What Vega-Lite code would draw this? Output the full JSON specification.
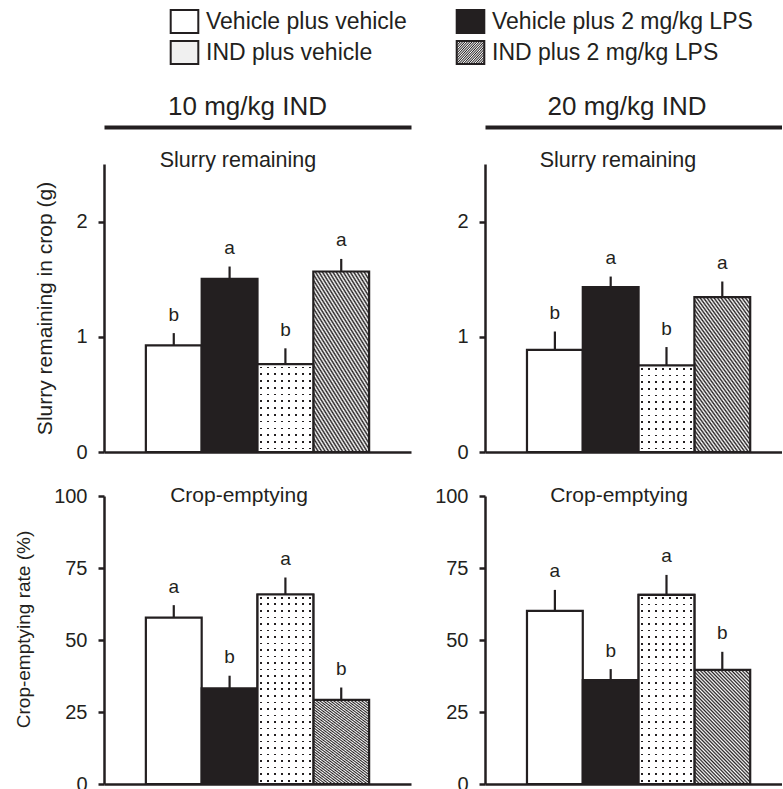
{
  "$schema": "https://vega.github.io/schema/vega-lite/v6.json",
  "padding": {"left": 14, "top": 9, "right": 0, "bottom": 0},
  "datasets": {
    "d": [
      {"m": "slurry", "dose": "10", "t": "Vehicle plus vehicle", "mean": 0.925, "upper": 1.032, "sig": "b"},
      {"m": "slurry", "dose": "10", "t": "Vehicle plus 2 mg/kg LPS", "mean": 1.503, "upper": 1.61, "sig": "a"},
      {"m": "slurry", "dose": "10", "t": "IND plus vehicle", "mean": 0.763, "upper": 0.9, "sig": "b"},
      {"m": "slurry", "dose": "10", "t": "IND plus 2 mg/kg LPS", "mean": 1.567, "upper": 1.676, "sig": "a"},
      {"m": "slurry", "dose": "20", "t": "Vehicle plus vehicle", "mean": 0.887, "upper": 1.046, "sig": "b"},
      {"m": "slurry", "dose": "20", "t": "Vehicle plus 2 mg/kg LPS", "mean": 1.431, "upper": 1.523, "sig": "a"},
      {"m": "slurry", "dose": "20", "t": "IND plus vehicle", "mean": 0.751, "upper": 0.911, "sig": "b"},
      {"m": "slurry", "dose": "20", "t": "IND plus 2 mg/kg LPS", "mean": 1.344, "upper": 1.48, "sig": "a"},
      {"m": "crop", "dose": "10", "t": "Vehicle plus vehicle", "mean": 57.8, "upper": 62.1, "sig": "a"},
      {"m": "crop", "dose": "10", "t": "Vehicle plus 2 mg/kg LPS", "mean": 33.2, "upper": 37.6, "sig": "b"},
      {"m": "crop", "dose": "10", "t": "IND plus vehicle", "mean": 65.8, "upper": 71.7, "sig": "a"},
      {"m": "crop", "dose": "10", "t": "IND plus 2 mg/kg LPS", "mean": 29.2, "upper": 33.5, "sig": "b"},
      {"m": "crop", "dose": "20", "t": "Vehicle plus vehicle", "mean": 60.1, "upper": 67.4, "sig": "a"},
      {"m": "crop", "dose": "20", "t": "Vehicle plus 2 mg/kg LPS", "mean": 36.1, "upper": 39.9, "sig": "b"},
      {"m": "crop", "dose": "20", "t": "IND plus vehicle", "mean": 65.7, "upper": 72.6, "sig": "a"},
      {"m": "crop", "dose": "20", "t": "IND plus 2 mg/kg LPS", "mean": 39.6, "upper": 45.9, "sig": "b"}
    ]
  },
  "columns": 2,
  "spacing": {"row": 22, "column": 23},
  "resolve": {"scale": {"fill": "shared"}, "legend": {"fill": "shared"}},
  "concat": [
    {
      "width": 307, "height": 288,
      "data": {"name": "d"},
      "transform": [{"filter": "datum.m === 'slurry' && datum.dose === '10'"}],
      "resolve": {"scale": {"x": "independent"}, "axis": {"x": "independent"}},
      "layer": [
        {
          "mark": {"type": "bar", "stroke": "#231f20", "strokeWidth": 2.2},
          "encoding": {
            "x": {"field": "t", "type": "nominal", "scale": {"type": "band", "domain": ["Vehicle plus vehicle", "Vehicle plus 2 mg/kg LPS", "IND plus vehicle", "IND plus 2 mg/kg LPS"], "paddingInner": 0, "paddingOuter": 0.75}, "axis": {"orient": "bottom", "labels": false, "ticks": false, "title": null}},
            "y": {"field": "mean", "type": "quantitative", "scale": {"domain": [0, 2.5], "nice": false}, "axis": {"values": [0, 1, 2], "format": "d", "title": "Slurry remaining in crop (g)", "titleFontSize": 21, "titlePadding": 20}},
            "fill": {
              "field": "t", "type": "nominal",
              "scale": {
                "domain": ["Vehicle plus vehicle", "Vehicle plus 2 mg/kg LPS", "IND plus vehicle", "IND plus 2 mg/kg LPS"],
                "range": [
                  "#ffffff",
                  "#231f20",
                  "#f0f0f0",
                  {"expr": "{gradient:'linear',x1:0,y1:1,x2:0.6,y2:-0.2,stops:[{offset:0,color:'#fff'},{offset:0.0104,color:'#231f20'},{offset:0.0208,color:'#fff'},{offset:0.0313,color:'#231f20'},{offset:0.0417,color:'#fff'},{offset:0.0521,color:'#231f20'},{offset:0.0625,color:'#fff'},{offset:0.0729,color:'#231f20'},{offset:0.0833,color:'#fff'},{offset:0.0938,color:'#231f20'},{offset:0.1042,color:'#fff'},{offset:0.1146,color:'#231f20'},{offset:0.125,color:'#fff'},{offset:0.1354,color:'#231f20'},{offset:0.1458,color:'#fff'},{offset:0.1563,color:'#231f20'},{offset:0.1667,color:'#fff'},{offset:0.1771,color:'#231f20'},{offset:0.1875,color:'#fff'},{offset:0.1979,color:'#231f20'},{offset:0.2083,color:'#fff'},{offset:0.2188,color:'#231f20'},{offset:0.2292,color:'#fff'},{offset:0.2396,color:'#231f20'},{offset:0.25,color:'#fff'},{offset:0.2604,color:'#231f20'},{offset:0.2708,color:'#fff'},{offset:0.2813,color:'#231f20'},{offset:0.2917,color:'#fff'},{offset:0.3021,color:'#231f20'},{offset:0.3125,color:'#fff'},{offset:0.3229,color:'#231f20'},{offset:0.3333,color:'#fff'},{offset:0.3438,color:'#231f20'},{offset:0.3542,color:'#fff'},{offset:0.3646,color:'#231f20'},{offset:0.375,color:'#fff'},{offset:0.3854,color:'#231f20'},{offset:0.3958,color:'#fff'},{offset:0.4063,color:'#231f20'},{offset:0.4167,color:'#fff'},{offset:0.4271,color:'#231f20'},{offset:0.4375,color:'#fff'},{offset:0.4479,color:'#231f20'},{offset:0.4583,color:'#fff'},{offset:0.4688,color:'#231f20'},{offset:0.4792,color:'#fff'},{offset:0.4896,color:'#231f20'},{offset:0.5,color:'#fff'},{offset:0.5104,color:'#231f20'},{offset:0.5208,color:'#fff'},{offset:0.5313,color:'#231f20'},{offset:0.5417,color:'#fff'},{offset:0.5521,color:'#231f20'},{offset:0.5625,color:'#fff'},{offset:0.5729,color:'#231f20'},{offset:0.5833,color:'#fff'},{offset:0.5938,color:'#231f20'},{offset:0.6042,color:'#fff'},{offset:0.6146,color:'#231f20'},{offset:0.625,color:'#fff'},{offset:0.6354,color:'#231f20'},{offset:0.6458,color:'#fff'},{offset:0.6563,color:'#231f20'},{offset:0.6667,color:'#fff'},{offset:0.6771,color:'#231f20'},{offset:0.6875,color:'#fff'},{offset:0.6979,color:'#231f20'},{offset:0.7083,color:'#fff'},{offset:0.7188,color:'#231f20'},{offset:0.7292,color:'#fff'},{offset:0.7396,color:'#231f20'},{offset:0.75,color:'#fff'},{offset:0.7604,color:'#231f20'},{offset:0.7708,color:'#fff'},{offset:0.7813,color:'#231f20'},{offset:0.7917,color:'#fff'},{offset:0.8021,color:'#231f20'},{offset:0.8125,color:'#fff'},{offset:0.8229,color:'#231f20'},{offset:0.8333,color:'#fff'},{offset:0.8438,color:'#231f20'},{offset:0.8542,color:'#fff'},{offset:0.8646,color:'#231f20'},{offset:0.875,color:'#fff'},{offset:0.8854,color:'#231f20'},{offset:0.8958,color:'#fff'},{offset:0.9063,color:'#231f20'},{offset:0.9167,color:'#fff'},{offset:0.9271,color:'#231f20'},{offset:0.9375,color:'#fff'},{offset:0.9479,color:'#231f20'},{offset:0.9583,color:'#fff'},{offset:0.9688,color:'#231f20'},{offset:0.9792,color:'#fff'},{offset:0.9896,color:'#231f20'},{offset:1,color:'#fff'}]}"}
                ]
              },
              "legend": {
                "orient": "none", "legendX": 68, "legendY": -155,
                "columns": 2, "direction": "horizontal", "title": null,
                "labelFontSize": 23, "labelColor": "#231f20", "labelLimit": 0, "labelOffset": 9,
                "symbolType": "M-1.2,-1H1.2V1H-1.2Z", "symbolSize": 529,
                "symbolStrokeColor": "#231f20", "symbolStrokeWidth": 2,
                "columnPadding": 45, "rowPadding": 0
              }
            }
          }
        },
        {
          "transform": [{"filter": "datum.t === 'IND plus vehicle'"}],
          "mark": {"type": "bar", "fill": {"gradient": "linear", "x1": 0, "y1": 0, "x2": 1, "y2": 0, "stops": [{"offset": 0.0482, "color": "#ffffff"}, {"offset": 0.0482, "color": "#231f20"}, {"offset": 0.0768, "color": "#231f20"}, {"offset": 0.0768, "color": "#ffffff"}, {"offset": 0.1732, "color": "#ffffff"}, {"offset": 0.1732, "color": "#231f20"}, {"offset": 0.2018, "color": "#231f20"}, {"offset": 0.2018, "color": "#ffffff"}, {"offset": 0.2982, "color": "#ffffff"}, {"offset": 0.2982, "color": "#231f20"}, {"offset": 0.3268, "color": "#231f20"}, {"offset": 0.3268, "color": "#ffffff"}, {"offset": 0.4232, "color": "#ffffff"}, {"offset": 0.4232, "color": "#231f20"}, {"offset": 0.4518, "color": "#231f20"}, {"offset": 0.4518, "color": "#ffffff"}, {"offset": 0.5482, "color": "#ffffff"}, {"offset": 0.5482, "color": "#231f20"}, {"offset": 0.5768, "color": "#231f20"}, {"offset": 0.5768, "color": "#ffffff"}, {"offset": 0.6732, "color": "#ffffff"}, {"offset": 0.6732, "color": "#231f20"}, {"offset": 0.7018, "color": "#231f20"}, {"offset": 0.7018, "color": "#ffffff"}, {"offset": 0.7982, "color": "#ffffff"}, {"offset": 0.7982, "color": "#231f20"}, {"offset": 0.8268, "color": "#231f20"}, {"offset": 0.8268, "color": "#ffffff"}, {"offset": 0.9232, "color": "#ffffff"}, {"offset": 0.9232, "color": "#231f20"}, {"offset": 0.9518, "color": "#231f20"}, {"offset": 0.9518, "color": "#ffffff"}]}},
          "encoding": {
            "x": {"field": "t", "type": "nominal", "scale": {"type": "band", "domain": ["Vehicle plus vehicle", "Vehicle plus 2 mg/kg LPS", "IND plus vehicle", "IND plus 2 mg/kg LPS"], "paddingInner": 0, "paddingOuter": 0.75}, "axis": null},
            "y": {"field": "mean", "type": "quantitative"}
          }
        },
        {
          "transform": [{"filter": "datum.t === 'IND plus vehicle'"}],
          "mark": {"type": "bar", "stroke": "#231f20", "strokeWidth": 2.2, "fill": {"gradient": "linear", "x1": 0, "y1": 0, "x2": 0, "y2": 1, "stops": [
            {"offset": 0.0293, "color": "#ffffff"}, {"offset": 0.0293, "color": "rgba(255,255,255,0)"}, {"offset": 0.0477, "color": "rgba(255,255,255,0)"}, {"offset": 0.0477, "color": "#ffffff"},
            {"offset": 0.1062, "color": "#ffffff"}, {"offset": 0.1062, "color": "rgba(255,255,255,0)"}, {"offset": 0.1246, "color": "rgba(255,255,255,0)"}, {"offset": 0.1246, "color": "#ffffff"},
            {"offset": 0.1831, "color": "#ffffff"}, {"offset": 0.1831, "color": "rgba(255,255,255,0)"}, {"offset": 0.2015, "color": "rgba(255,255,255,0)"}, {"offset": 0.2015, "color": "#ffffff"},
            {"offset": 0.26, "color": "#ffffff"}, {"offset": 0.26, "color": "rgba(255,255,255,0)"}, {"offset": 0.2784, "color": "rgba(255,255,255,0)"}, {"offset": 0.2784, "color": "#ffffff"},
            {"offset": 0.337, "color": "#ffffff"}, {"offset": 0.337, "color": "rgba(255,255,255,0)"}, {"offset": 0.3554, "color": "rgba(255,255,255,0)"}, {"offset": 0.3554, "color": "#ffffff"},
            {"offset": 0.4139, "color": "#ffffff"}, {"offset": 0.4139, "color": "rgba(255,255,255,0)"}, {"offset": 0.4323, "color": "rgba(255,255,255,0)"}, {"offset": 0.4323, "color": "#ffffff"},
            {"offset": 0.4908, "color": "#ffffff"}, {"offset": 0.4908, "color": "rgba(255,255,255,0)"}, {"offset": 0.5092, "color": "rgba(255,255,255,0)"}, {"offset": 0.5092, "color": "#ffffff"},
            {"offset": 0.5677, "color": "#ffffff"}, {"offset": 0.5677, "color": "rgba(255,255,255,0)"}, {"offset": 0.5861, "color": "rgba(255,255,255,0)"}, {"offset": 0.5861, "color": "#ffffff"},
            {"offset": 0.6446, "color": "#ffffff"}, {"offset": 0.6446, "color": "rgba(255,255,255,0)"}, {"offset": 0.663, "color": "rgba(255,255,255,0)"}, {"offset": 0.663, "color": "#ffffff"},
            {"offset": 0.7216, "color": "#ffffff"}, {"offset": 0.7216, "color": "rgba(255,255,255,0)"}, {"offset": 0.74, "color": "rgba(255,255,255,0)"}, {"offset": 0.74, "color": "#ffffff"},
            {"offset": 0.7985, "color": "#ffffff"}, {"offset": 0.7985, "color": "rgba(255,255,255,0)"}, {"offset": 0.8169, "color": "rgba(255,255,255,0)"}, {"offset": 0.8169, "color": "#ffffff"},
            {"offset": 0.8754, "color": "#ffffff"}, {"offset": 0.8754, "color": "rgba(255,255,255,0)"}, {"offset": 0.8938, "color": "rgba(255,255,255,0)"}, {"offset": 0.8938, "color": "#ffffff"},
            {"offset": 0.9523, "color": "#ffffff"}, {"offset": 0.9523, "color": "rgba(255,255,255,0)"}, {"offset": 0.9707, "color": "rgba(255,255,255,0)"}, {"offset": 0.9707, "color": "#ffffff"}
          ]}},
          "encoding": {
            "x": {"field": "t", "type": "nominal", "scale": {"type": "band", "domain": ["Vehicle plus vehicle", "Vehicle plus 2 mg/kg LPS", "IND plus vehicle", "IND plus 2 mg/kg LPS"], "paddingInner": 0, "paddingOuter": 0.75}, "axis": null},
            "y": {"field": "mean", "type": "quantitative"}
          }
        },
        {
          "mark": {"type": "rule", "color": "#231f20", "strokeWidth": 2.2},
          "encoding": {
            "x": {"field": "t", "type": "nominal", "scale": {"type": "band", "domain": ["Vehicle plus vehicle", "Vehicle plus 2 mg/kg LPS", "IND plus vehicle", "IND plus 2 mg/kg LPS"], "paddingInner": 0, "paddingOuter": 0.75}, "axis": {"orient": "top", "offset": 37, "labels": false, "ticks": false, "domainWidth": 4, "title": "10 mg/kg IND", "titleFontSize": 26, "titlePadding": 8, "titleX": 143}},
            "y": {"field": "mean", "type": "quantitative"},
            "y2": {"field": "upper"}
          }
        },
        {
          "mark": {"type": "text", "fontSize": 19, "baseline": "alphabetic", "dy": -12.5, "color": "#231f20"},
          "encoding": {
            "x": {"field": "t", "type": "nominal", "scale": {"type": "band", "domain": ["Vehicle plus vehicle", "Vehicle plus 2 mg/kg LPS", "IND plus vehicle", "IND plus 2 mg/kg LPS"], "paddingInner": 0, "paddingOuter": 0.75}, "axis": {"orient": "top", "domain": false, "labels": false, "ticks": false, "title": "Slurry remaining", "titleFontSize": 21.5, "titlePadding": -2, "titleBaseline": "alphabetic", "titleX": 133.5}},
            "y": {"field": "upper", "type": "quantitative"},
            "text": {"field": "sig"}
          }
        }
      ]
    },
    {
      "width": 297, "height": 288,
      "data": {"name": "d"},
      "transform": [{"filter": "datum.m === 'slurry' && datum.dose === '20'"}],
      "resolve": {"scale": {"x": "independent"}, "axis": {"x": "independent"}},
      "layer": [
        {
          "mark": {"type": "bar", "stroke": "#231f20", "strokeWidth": 2.2},
          "encoding": {
            "x": {"field": "t", "type": "nominal", "scale": {"type": "band", "domain": ["Vehicle plus vehicle", "Vehicle plus 2 mg/kg LPS", "IND plus vehicle", "IND plus 2 mg/kg LPS"], "paddingInner": 0, "paddingOuter": 0.661, "align": 0.569}, "axis": {"orient": "bottom", "labels": false, "ticks": false, "title": null}},
            "y": {"field": "mean", "type": "quantitative", "scale": {"domain": [0, 2.5], "nice": false}, "axis": {"values": [0, 1, 2], "format": "d", "title": null}},
            "fill": {"field": "t", "type": "nominal", "scale": {"domain": ["Vehicle plus vehicle", "Vehicle plus 2 mg/kg LPS", "IND plus vehicle", "IND plus 2 mg/kg LPS"]}}
          }
        },
        {
          "transform": [{"filter": "datum.t === 'IND plus vehicle'"}],
          "mark": {"type": "bar", "fill": {"gradient": "linear", "x1": 0, "y1": 0, "x2": 1, "y2": 0, "stops": [{"offset": 0.0482, "color": "#ffffff"}, {"offset": 0.0482, "color": "#231f20"}, {"offset": 0.0768, "color": "#231f20"}, {"offset": 0.0768, "color": "#ffffff"}, {"offset": 0.1732, "color": "#ffffff"}, {"offset": 0.1732, "color": "#231f20"}, {"offset": 0.2018, "color": "#231f20"}, {"offset": 0.2018, "color": "#ffffff"}, {"offset": 0.2982, "color": "#ffffff"}, {"offset": 0.2982, "color": "#231f20"}, {"offset": 0.3268, "color": "#231f20"}, {"offset": 0.3268, "color": "#ffffff"}, {"offset": 0.4232, "color": "#ffffff"}, {"offset": 0.4232, "color": "#231f20"}, {"offset": 0.4518, "color": "#231f20"}, {"offset": 0.4518, "color": "#ffffff"}, {"offset": 0.5482, "color": "#ffffff"}, {"offset": 0.5482, "color": "#231f20"}, {"offset": 0.5768, "color": "#231f20"}, {"offset": 0.5768, "color": "#ffffff"}, {"offset": 0.6732, "color": "#ffffff"}, {"offset": 0.6732, "color": "#231f20"}, {"offset": 0.7018, "color": "#231f20"}, {"offset": 0.7018, "color": "#ffffff"}, {"offset": 0.7982, "color": "#ffffff"}, {"offset": 0.7982, "color": "#231f20"}, {"offset": 0.8268, "color": "#231f20"}, {"offset": 0.8268, "color": "#ffffff"}, {"offset": 0.9232, "color": "#ffffff"}, {"offset": 0.9232, "color": "#231f20"}, {"offset": 0.9518, "color": "#231f20"}, {"offset": 0.9518, "color": "#ffffff"}]}},
          "encoding": {
            "x": {"field": "t", "type": "nominal", "scale": {"type": "band", "domain": ["Vehicle plus vehicle", "Vehicle plus 2 mg/kg LPS", "IND plus vehicle", "IND plus 2 mg/kg LPS"], "paddingInner": 0, "paddingOuter": 0.661, "align": 0.569}, "axis": null},
            "y": {"field": "mean", "type": "quantitative"}
          }
        },
        {
          "transform": [{"filter": "datum.t === 'IND plus vehicle'"}],
          "mark": {"type": "bar", "stroke": "#231f20", "strokeWidth": 2.2, "fill": {"gradient": "linear", "x1": 0, "y1": 0, "x2": 0, "y2": 1, "stops": [
            {"offset": 0.0293, "color": "#ffffff"}, {"offset": 0.0293, "color": "rgba(255,255,255,0)"}, {"offset": 0.0477, "color": "rgba(255,255,255,0)"}, {"offset": 0.0477, "color": "#ffffff"},
            {"offset": 0.1062, "color": "#ffffff"}, {"offset": 0.1062, "color": "rgba(255,255,255,0)"}, {"offset": 0.1246, "color": "rgba(255,255,255,0)"}, {"offset": 0.1246, "color": "#ffffff"},
            {"offset": 0.1831, "color": "#ffffff"}, {"offset": 0.1831, "color": "rgba(255,255,255,0)"}, {"offset": 0.2015, "color": "rgba(255,255,255,0)"}, {"offset": 0.2015, "color": "#ffffff"},
            {"offset": 0.26, "color": "#ffffff"}, {"offset": 0.26, "color": "rgba(255,255,255,0)"}, {"offset": 0.2784, "color": "rgba(255,255,255,0)"}, {"offset": 0.2784, "color": "#ffffff"},
            {"offset": 0.337, "color": "#ffffff"}, {"offset": 0.337, "color": "rgba(255,255,255,0)"}, {"offset": 0.3554, "color": "rgba(255,255,255,0)"}, {"offset": 0.3554, "color": "#ffffff"},
            {"offset": 0.4139, "color": "#ffffff"}, {"offset": 0.4139, "color": "rgba(255,255,255,0)"}, {"offset": 0.4323, "color": "rgba(255,255,255,0)"}, {"offset": 0.4323, "color": "#ffffff"},
            {"offset": 0.4908, "color": "#ffffff"}, {"offset": 0.4908, "color": "rgba(255,255,255,0)"}, {"offset": 0.5092, "color": "rgba(255,255,255,0)"}, {"offset": 0.5092, "color": "#ffffff"},
            {"offset": 0.5677, "color": "#ffffff"}, {"offset": 0.5677, "color": "rgba(255,255,255,0)"}, {"offset": 0.5861, "color": "rgba(255,255,255,0)"}, {"offset": 0.5861, "color": "#ffffff"},
            {"offset": 0.6446, "color": "#ffffff"}, {"offset": 0.6446, "color": "rgba(255,255,255,0)"}, {"offset": 0.663, "color": "rgba(255,255,255,0)"}, {"offset": 0.663, "color": "#ffffff"},
            {"offset": 0.7216, "color": "#ffffff"}, {"offset": 0.7216, "color": "rgba(255,255,255,0)"}, {"offset": 0.74, "color": "rgba(255,255,255,0)"}, {"offset": 0.74, "color": "#ffffff"},
            {"offset": 0.7985, "color": "#ffffff"}, {"offset": 0.7985, "color": "rgba(255,255,255,0)"}, {"offset": 0.8169, "color": "rgba(255,255,255,0)"}, {"offset": 0.8169, "color": "#ffffff"},
            {"offset": 0.8754, "color": "#ffffff"}, {"offset": 0.8754, "color": "rgba(255,255,255,0)"}, {"offset": 0.8938, "color": "rgba(255,255,255,0)"}, {"offset": 0.8938, "color": "#ffffff"},
            {"offset": 0.9523, "color": "#ffffff"}, {"offset": 0.9523, "color": "rgba(255,255,255,0)"}, {"offset": 0.9707, "color": "rgba(255,255,255,0)"}, {"offset": 0.9707, "color": "#ffffff"}
          ]}},
          "encoding": {
            "x": {"field": "t", "type": "nominal", "scale": {"type": "band", "domain": ["Vehicle plus vehicle", "Vehicle plus 2 mg/kg LPS", "IND plus vehicle", "IND plus 2 mg/kg LPS"], "paddingInner": 0, "paddingOuter": 0.661, "align": 0.569}, "axis": null},
            "y": {"field": "mean", "type": "quantitative"}
          }
        },
        {
          "mark": {"type": "rule", "color": "#231f20", "strokeWidth": 2.2},
          "encoding": {
            "x": {"field": "t", "type": "nominal", "scale": {"type": "band", "domain": ["Vehicle plus vehicle", "Vehicle plus 2 mg/kg LPS", "IND plus vehicle", "IND plus 2 mg/kg LPS"], "paddingInner": 0, "paddingOuter": 0.661, "align": 0.569}, "axis": {"orient": "top", "offset": 37, "labels": false, "ticks": false, "domainWidth": 4, "title": "20 mg/kg IND", "titleFontSize": 26, "titlePadding": 8, "titleX": 141.5}},
            "y": {"field": "mean", "type": "quantitative"},
            "y2": {"field": "upper"}
          }
        },
        {
          "mark": {"type": "text", "fontSize": 19, "baseline": "alphabetic", "dy": -12.5, "color": "#231f20"},
          "encoding": {
            "x": {"field": "t", "type": "nominal", "scale": {"type": "band", "domain": ["Vehicle plus vehicle", "Vehicle plus 2 mg/kg LPS", "IND plus vehicle", "IND plus 2 mg/kg LPS"], "paddingInner": 0, "paddingOuter": 0.661, "align": 0.569}, "axis": {"orient": "top", "domain": false, "labels": false, "ticks": false, "title": "Slurry remaining", "titleFontSize": 21.5, "titlePadding": -2, "titleBaseline": "alphabetic", "titleX": 132.5}},
            "y": {"field": "upper", "type": "quantitative"},
            "text": {"field": "sig"}
          }
        }
      ]
    },
    {
      "width": 307, "height": 288,
      "data": {"name": "d"},
      "transform": [{"filter": "datum.m === 'crop' && datum.dose === '10'"}],
      "resolve": {"scale": {"x": "independent"}, "axis": {"x": "independent"}},
      "layer": [
        {
          "mark": {"type": "bar", "stroke": "#231f20", "strokeWidth": 2.2},
          "encoding": {
            "x": {"field": "t", "type": "nominal", "scale": {"type": "band", "domain": ["Vehicle plus vehicle", "Vehicle plus 2 mg/kg LPS", "IND plus vehicle", "IND plus 2 mg/kg LPS"], "paddingInner": 0, "paddingOuter": 0.75}, "axis": {"orient": "bottom", "labels": false, "ticks": false, "title": null}},
            "y": {"field": "mean", "type": "quantitative", "scale": {"domain": [0, 100], "nice": false}, "axis": {"values": [0, 25, 50, 75, 100], "title": "Crop-emptying rate (%)", "titleFontSize": 19, "titlePadding": 20, "titleY": 133}},
            "fill": {"field": "t", "type": "nominal", "scale": {"domain": ["Vehicle plus vehicle", "Vehicle plus 2 mg/kg LPS", "IND plus vehicle", "IND plus 2 mg/kg LPS"]}}
          }
        },
        {
          "transform": [{"filter": "datum.t === 'IND plus vehicle'"}],
          "mark": {"type": "bar", "fill": {"gradient": "linear", "x1": 0, "y1": 0, "x2": 1, "y2": 0, "stops": [{"offset": 0.0482, "color": "#ffffff"}, {"offset": 0.0482, "color": "#231f20"}, {"offset": 0.0768, "color": "#231f20"}, {"offset": 0.0768, "color": "#ffffff"}, {"offset": 0.1732, "color": "#ffffff"}, {"offset": 0.1732, "color": "#231f20"}, {"offset": 0.2018, "color": "#231f20"}, {"offset": 0.2018, "color": "#ffffff"}, {"offset": 0.2982, "color": "#ffffff"}, {"offset": 0.2982, "color": "#231f20"}, {"offset": 0.3268, "color": "#231f20"}, {"offset": 0.3268, "color": "#ffffff"}, {"offset": 0.4232, "color": "#ffffff"}, {"offset": 0.4232, "color": "#231f20"}, {"offset": 0.4518, "color": "#231f20"}, {"offset": 0.4518, "color": "#ffffff"}, {"offset": 0.5482, "color": "#ffffff"}, {"offset": 0.5482, "color": "#231f20"}, {"offset": 0.5768, "color": "#231f20"}, {"offset": 0.5768, "color": "#ffffff"}, {"offset": 0.6732, "color": "#ffffff"}, {"offset": 0.6732, "color": "#231f20"}, {"offset": 0.7018, "color": "#231f20"}, {"offset": 0.7018, "color": "#ffffff"}, {"offset": 0.7982, "color": "#ffffff"}, {"offset": 0.7982, "color": "#231f20"}, {"offset": 0.8268, "color": "#231f20"}, {"offset": 0.8268, "color": "#ffffff"}, {"offset": 0.9232, "color": "#ffffff"}, {"offset": 0.9232, "color": "#231f20"}, {"offset": 0.9518, "color": "#231f20"}, {"offset": 0.9518, "color": "#ffffff"}]}},
          "encoding": {
            "x": {"field": "t", "type": "nominal", "scale": {"type": "band", "domain": ["Vehicle plus vehicle", "Vehicle plus 2 mg/kg LPS", "IND plus vehicle", "IND plus 2 mg/kg LPS"], "paddingInner": 0, "paddingOuter": 0.75}, "axis": null},
            "y": {"field": "mean", "type": "quantitative"}
          }
        },
        {
          "transform": [{"filter": "datum.t === 'IND plus vehicle'"}],
          "mark": {"type": "bar", "stroke": "#231f20", "strokeWidth": 2.2, "fill": {"gradient": "linear", "x1": 0, "y1": 0, "x2": 0, "y2": 1, "stops": [
            {"offset": 0.013, "color": "#ffffff"}, {"offset": 0.013, "color": "rgba(255,255,255,0)"}, {"offset": 0.0214, "color": "rgba(255,255,255,0)"}, {"offset": 0.0214, "color": "#ffffff"},
            {"offset": 0.0475, "color": "#ffffff"}, {"offset": 0.0475, "color": "rgba(255,255,255,0)"}, {"offset": 0.0559, "color": "rgba(255,255,255,0)"}, {"offset": 0.0559, "color": "#ffffff"},
            {"offset": 0.082, "color": "#ffffff"}, {"offset": 0.082, "color": "rgba(255,255,255,0)"}, {"offset": 0.0904, "color": "rgba(255,255,255,0)"}, {"offset": 0.0904, "color": "#ffffff"},
            {"offset": 0.1165, "color": "#ffffff"}, {"offset": 0.1165, "color": "rgba(255,255,255,0)"}, {"offset": 0.1249, "color": "rgba(255,255,255,0)"}, {"offset": 0.1249, "color": "#ffffff"},
            {"offset": 0.151, "color": "#ffffff"}, {"offset": 0.151, "color": "rgba(255,255,255,0)"}, {"offset": 0.1594, "color": "rgba(255,255,255,0)"}, {"offset": 0.1594, "color": "#ffffff"},
            {"offset": 0.1855, "color": "#ffffff"}, {"offset": 0.1855, "color": "rgba(255,255,255,0)"}, {"offset": 0.1939, "color": "rgba(255,255,255,0)"}, {"offset": 0.1939, "color": "#ffffff"},
            {"offset": 0.2199, "color": "#ffffff"}, {"offset": 0.2199, "color": "rgba(255,255,255,0)"}, {"offset": 0.2283, "color": "rgba(255,255,255,0)"}, {"offset": 0.2283, "color": "#ffffff"},
            {"offset": 0.2544, "color": "#ffffff"}, {"offset": 0.2544, "color": "rgba(255,255,255,0)"}, {"offset": 0.2628, "color": "rgba(255,255,255,0)"}, {"offset": 0.2628, "color": "#ffffff"},
            {"offset": 0.2889, "color": "#ffffff"}, {"offset": 0.2889, "color": "rgba(255,255,255,0)"}, {"offset": 0.2973, "color": "rgba(255,255,255,0)"}, {"offset": 0.2973, "color": "#ffffff"},
            {"offset": 0.3234, "color": "#ffffff"}, {"offset": 0.3234, "color": "rgba(255,255,255,0)"}, {"offset": 0.3318, "color": "rgba(255,255,255,0)"}, {"offset": 0.3318, "color": "#ffffff"},
            {"offset": 0.3579, "color": "#ffffff"}, {"offset": 0.3579, "color": "rgba(255,255,255,0)"}, {"offset": 0.3663, "color": "rgba(255,255,255,0)"}, {"offset": 0.3663, "color": "#ffffff"},
            {"offset": 0.3924, "color": "#ffffff"}, {"offset": 0.3924, "color": "rgba(255,255,255,0)"}, {"offset": 0.4008, "color": "rgba(255,255,255,0)"}, {"offset": 0.4008, "color": "#ffffff"},
            {"offset": 0.4268, "color": "#ffffff"}, {"offset": 0.4268, "color": "rgba(255,255,255,0)"}, {"offset": 0.4352, "color": "rgba(255,255,255,0)"}, {"offset": 0.4352, "color": "#ffffff"},
            {"offset": 0.4613, "color": "#ffffff"}, {"offset": 0.4613, "color": "rgba(255,255,255,0)"}, {"offset": 0.4697, "color": "rgba(255,255,255,0)"}, {"offset": 0.4697, "color": "#ffffff"},
            {"offset": 0.4958, "color": "#ffffff"}, {"offset": 0.4958, "color": "rgba(255,255,255,0)"}, {"offset": 0.5042, "color": "rgba(255,255,255,0)"}, {"offset": 0.5042, "color": "#ffffff"},
            {"offset": 0.5303, "color": "#ffffff"}, {"offset": 0.5303, "color": "rgba(255,255,255,0)"}, {"offset": 0.5387, "color": "rgba(255,255,255,0)"}, {"offset": 0.5387, "color": "#ffffff"},
            {"offset": 0.5648, "color": "#ffffff"}, {"offset": 0.5648, "color": "rgba(255,255,255,0)"}, {"offset": 0.5732, "color": "rgba(255,255,255,0)"}, {"offset": 0.5732, "color": "#ffffff"},
            {"offset": 0.5992, "color": "#ffffff"}, {"offset": 0.5992, "color": "rgba(255,255,255,0)"}, {"offset": 0.6076, "color": "rgba(255,255,255,0)"}, {"offset": 0.6076, "color": "#ffffff"},
            {"offset": 0.6337, "color": "#ffffff"}, {"offset": 0.6337, "color": "rgba(255,255,255,0)"}, {"offset": 0.6421, "color": "rgba(255,255,255,0)"}, {"offset": 0.6421, "color": "#ffffff"},
            {"offset": 0.6682, "color": "#ffffff"}, {"offset": 0.6682, "color": "rgba(255,255,255,0)"}, {"offset": 0.6766, "color": "rgba(255,255,255,0)"}, {"offset": 0.6766, "color": "#ffffff"},
            {"offset": 0.7027, "color": "#ffffff"}, {"offset": 0.7027, "color": "rgba(255,255,255,0)"}, {"offset": 0.7111, "color": "rgba(255,255,255,0)"}, {"offset": 0.7111, "color": "#ffffff"},
            {"offset": 0.7372, "color": "#ffffff"}, {"offset": 0.7372, "color": "rgba(255,255,255,0)"}, {"offset": 0.7456, "color": "rgba(255,255,255,0)"}, {"offset": 0.7456, "color": "#ffffff"},
            {"offset": 0.7717, "color": "#ffffff"}, {"offset": 0.7717, "color": "rgba(255,255,255,0)"}, {"offset": 0.7801, "color": "rgba(255,255,255,0)"}, {"offset": 0.7801, "color": "#ffffff"},
            {"offset": 0.8061, "color": "#ffffff"}, {"offset": 0.8061, "color": "rgba(255,255,255,0)"}, {"offset": 0.8145, "color": "rgba(255,255,255,0)"}, {"offset": 0.8145, "color": "#ffffff"},
            {"offset": 0.8406, "color": "#ffffff"}, {"offset": 0.8406, "color": "rgba(255,255,255,0)"}, {"offset": 0.849, "color": "rgba(255,255,255,0)"}, {"offset": 0.849, "color": "#ffffff"},
            {"offset": 0.8751, "color": "#ffffff"}, {"offset": 0.8751, "color": "rgba(255,255,255,0)"}, {"offset": 0.8835, "color": "rgba(255,255,255,0)"}, {"offset": 0.8835, "color": "#ffffff"},
            {"offset": 0.9096, "color": "#ffffff"}, {"offset": 0.9096, "color": "rgba(255,255,255,0)"}, {"offset": 0.918, "color": "rgba(255,255,255,0)"}, {"offset": 0.918, "color": "#ffffff"},
            {"offset": 0.9441, "color": "#ffffff"}, {"offset": 0.9441, "color": "rgba(255,255,255,0)"}, {"offset": 0.9525, "color": "rgba(255,255,255,0)"}, {"offset": 0.9525, "color": "#ffffff"},
            {"offset": 0.9786, "color": "#ffffff"}, {"offset": 0.9786, "color": "rgba(255,255,255,0)"}, {"offset": 0.987, "color": "rgba(255,255,255,0)"}, {"offset": 0.987, "color": "#ffffff"}
          ]}},
          "encoding": {
            "x": {"field": "t", "type": "nominal", "scale": {"type": "band", "domain": ["Vehicle plus vehicle", "Vehicle plus 2 mg/kg LPS", "IND plus vehicle", "IND plus 2 mg/kg LPS"], "paddingInner": 0, "paddingOuter": 0.75}, "axis": null},
            "y": {"field": "mean", "type": "quantitative"}
          }
        },
        {
          "mark": {"type": "rule", "color": "#231f20", "strokeWidth": 2.2},
          "encoding": {
            "x": {"field": "t", "type": "nominal", "scale": {"type": "band", "domain": ["Vehicle plus vehicle", "Vehicle plus 2 mg/kg LPS", "IND plus vehicle", "IND plus 2 mg/kg LPS"], "paddingInner": 0, "paddingOuter": 0.75}, "axis": null},
            "y": {"field": "mean", "type": "quantitative"},
            "y2": {"field": "upper"}
          }
        },
        {
          "mark": {"type": "text", "fontSize": 19, "baseline": "alphabetic", "dy": -12.5, "color": "#231f20"},
          "encoding": {
            "x": {"field": "t", "type": "nominal", "scale": {"type": "band", "domain": ["Vehicle plus vehicle", "Vehicle plus 2 mg/kg LPS", "IND plus vehicle", "IND plus 2 mg/kg LPS"], "paddingInner": 0, "paddingOuter": 0.75}, "axis": {"orient": "top", "domain": false, "labels": false, "ticks": false, "title": "Crop-emptying", "titleFontSize": 21, "titlePadding": -5.5, "titleBaseline": "alphabetic", "titleX": 134.5}},
            "y": {"field": "upper", "type": "quantitative"},
            "text": {"field": "sig"}
          }
        }
      ]
    },
    {
      "width": 297, "height": 288,
      "data": {"name": "d"},
      "transform": [{"filter": "datum.m === 'crop' && datum.dose === '20'"}],
      "resolve": {"scale": {"x": "independent"}, "axis": {"x": "independent"}},
      "layer": [
        {
          "mark": {"type": "bar", "stroke": "#231f20", "strokeWidth": 2.2},
          "encoding": {
            "x": {"field": "t", "type": "nominal", "scale": {"type": "band", "domain": ["Vehicle plus vehicle", "Vehicle plus 2 mg/kg LPS", "IND plus vehicle", "IND plus 2 mg/kg LPS"], "paddingInner": 0, "paddingOuter": 0.661, "align": 0.569}, "axis": {"orient": "bottom", "labels": false, "ticks": false, "title": null}},
            "y": {"field": "mean", "type": "quantitative", "scale": {"domain": [0, 100], "nice": false}, "axis": {"values": [0, 25, 50, 75, 100], "title": null}},
            "fill": {"field": "t", "type": "nominal", "scale": {"domain": ["Vehicle plus vehicle", "Vehicle plus 2 mg/kg LPS", "IND plus vehicle", "IND plus 2 mg/kg LPS"]}}
          }
        },
        {
          "transform": [{"filter": "datum.t === 'IND plus vehicle'"}],
          "mark": {"type": "bar", "fill": {"gradient": "linear", "x1": 0, "y1": 0, "x2": 1, "y2": 0, "stops": [{"offset": 0.0482, "color": "#ffffff"}, {"offset": 0.0482, "color": "#231f20"}, {"offset": 0.0768, "color": "#231f20"}, {"offset": 0.0768, "color": "#ffffff"}, {"offset": 0.1732, "color": "#ffffff"}, {"offset": 0.1732, "color": "#231f20"}, {"offset": 0.2018, "color": "#231f20"}, {"offset": 0.2018, "color": "#ffffff"}, {"offset": 0.2982, "color": "#ffffff"}, {"offset": 0.2982, "color": "#231f20"}, {"offset": 0.3268, "color": "#231f20"}, {"offset": 0.3268, "color": "#ffffff"}, {"offset": 0.4232, "color": "#ffffff"}, {"offset": 0.4232, "color": "#231f20"}, {"offset": 0.4518, "color": "#231f20"}, {"offset": 0.4518, "color": "#ffffff"}, {"offset": 0.5482, "color": "#ffffff"}, {"offset": 0.5482, "color": "#231f20"}, {"offset": 0.5768, "color": "#231f20"}, {"offset": 0.5768, "color": "#ffffff"}, {"offset": 0.6732, "color": "#ffffff"}, {"offset": 0.6732, "color": "#231f20"}, {"offset": 0.7018, "color": "#231f20"}, {"offset": 0.7018, "color": "#ffffff"}, {"offset": 0.7982, "color": "#ffffff"}, {"offset": 0.7982, "color": "#231f20"}, {"offset": 0.8268, "color": "#231f20"}, {"offset": 0.8268, "color": "#ffffff"}, {"offset": 0.9232, "color": "#ffffff"}, {"offset": 0.9232, "color": "#231f20"}, {"offset": 0.9518, "color": "#231f20"}, {"offset": 0.9518, "color": "#ffffff"}]}},
          "encoding": {
            "x": {"field": "t", "type": "nominal", "scale": {"type": "band", "domain": ["Vehicle plus vehicle", "Vehicle plus 2 mg/kg LPS", "IND plus vehicle", "IND plus 2 mg/kg LPS"], "paddingInner": 0, "paddingOuter": 0.661, "align": 0.569}, "axis": null},
            "y": {"field": "mean", "type": "quantitative"}
          }
        },
        {
          "transform": [{"filter": "datum.t === 'IND plus vehicle'"}],
          "mark": {"type": "bar", "stroke": "#231f20", "strokeWidth": 2.2, "fill": {"gradient": "linear", "x1": 0, "y1": 0, "x2": 0, "y2": 1, "stops": [
            {"offset": 0.013, "color": "#ffffff"}, {"offset": 0.013, "color": "rgba(255,255,255,0)"}, {"offset": 0.0214, "color": "rgba(255,255,255,0)"}, {"offset": 0.0214, "color": "#ffffff"},
            {"offset": 0.0475, "color": "#ffffff"}, {"offset": 0.0475, "color": "rgba(255,255,255,0)"}, {"offset": 0.0559, "color": "rgba(255,255,255,0)"}, {"offset": 0.0559, "color": "#ffffff"},
            {"offset": 0.082, "color": "#ffffff"}, {"offset": 0.082, "color": "rgba(255,255,255,0)"}, {"offset": 0.0904, "color": "rgba(255,255,255,0)"}, {"offset": 0.0904, "color": "#ffffff"},
            {"offset": 0.1165, "color": "#ffffff"}, {"offset": 0.1165, "color": "rgba(255,255,255,0)"}, {"offset": 0.1249, "color": "rgba(255,255,255,0)"}, {"offset": 0.1249, "color": "#ffffff"},
            {"offset": 0.151, "color": "#ffffff"}, {"offset": 0.151, "color": "rgba(255,255,255,0)"}, {"offset": 0.1594, "color": "rgba(255,255,255,0)"}, {"offset": 0.1594, "color": "#ffffff"},
            {"offset": 0.1855, "color": "#ffffff"}, {"offset": 0.1855, "color": "rgba(255,255,255,0)"}, {"offset": 0.1939, "color": "rgba(255,255,255,0)"}, {"offset": 0.1939, "color": "#ffffff"},
            {"offset": 0.2199, "color": "#ffffff"}, {"offset": 0.2199, "color": "rgba(255,255,255,0)"}, {"offset": 0.2283, "color": "rgba(255,255,255,0)"}, {"offset": 0.2283, "color": "#ffffff"},
            {"offset": 0.2544, "color": "#ffffff"}, {"offset": 0.2544, "color": "rgba(255,255,255,0)"}, {"offset": 0.2628, "color": "rgba(255,255,255,0)"}, {"offset": 0.2628, "color": "#ffffff"},
            {"offset": 0.2889, "color": "#ffffff"}, {"offset": 0.2889, "color": "rgba(255,255,255,0)"}, {"offset": 0.2973, "color": "rgba(255,255,255,0)"}, {"offset": 0.2973, "color": "#ffffff"},
            {"offset": 0.3234, "color": "#ffffff"}, {"offset": 0.3234, "color": "rgba(255,255,255,0)"}, {"offset": 0.3318, "color": "rgba(255,255,255,0)"}, {"offset": 0.3318, "color": "#ffffff"},
            {"offset": 0.3579, "color": "#ffffff"}, {"offset": 0.3579, "color": "rgba(255,255,255,0)"}, {"offset": 0.3663, "color": "rgba(255,255,255,0)"}, {"offset": 0.3663, "color": "#ffffff"},
            {"offset": 0.3924, "color": "#ffffff"}, {"offset": 0.3924, "color": "rgba(255,255,255,0)"}, {"offset": 0.4008, "color": "rgba(255,255,255,0)"}, {"offset": 0.4008, "color": "#ffffff"},
            {"offset": 0.4268, "color": "#ffffff"}, {"offset": 0.4268, "color": "rgba(255,255,255,0)"}, {"offset": 0.4352, "color": "rgba(255,255,255,0)"}, {"offset": 0.4352, "color": "#ffffff"},
            {"offset": 0.4613, "color": "#ffffff"}, {"offset": 0.4613, "color": "rgba(255,255,255,0)"}, {"offset": 0.4697, "color": "rgba(255,255,255,0)"}, {"offset": 0.4697, "color": "#ffffff"},
            {"offset": 0.4958, "color": "#ffffff"}, {"offset": 0.4958, "color": "rgba(255,255,255,0)"}, {"offset": 0.5042, "color": "rgba(255,255,255,0)"}, {"offset": 0.5042, "color": "#ffffff"},
            {"offset": 0.5303, "color": "#ffffff"}, {"offset": 0.5303, "color": "rgba(255,255,255,0)"}, {"offset": 0.5387, "color": "rgba(255,255,255,0)"}, {"offset": 0.5387, "color": "#ffffff"},
            {"offset": 0.5648, "color": "#ffffff"}, {"offset": 0.5648, "color": "rgba(255,255,255,0)"}, {"offset": 0.5732, "color": "rgba(255,255,255,0)"}, {"offset": 0.5732, "color": "#ffffff"},
            {"offset": 0.5992, "color": "#ffffff"}, {"offset": 0.5992, "color": "rgba(255,255,255,0)"}, {"offset": 0.6076, "color": "rgba(255,255,255,0)"}, {"offset": 0.6076, "color": "#ffffff"},
            {"offset": 0.6337, "color": "#ffffff"}, {"offset": 0.6337, "color": "rgba(255,255,255,0)"}, {"offset": 0.6421, "color": "rgba(255,255,255,0)"}, {"offset": 0.6421, "color": "#ffffff"},
            {"offset": 0.6682, "color": "#ffffff"}, {"offset": 0.6682, "color": "rgba(255,255,255,0)"}, {"offset": 0.6766, "color": "rgba(255,255,255,0)"}, {"offset": 0.6766, "color": "#ffffff"},
            {"offset": 0.7027, "color": "#ffffff"}, {"offset": 0.7027, "color": "rgba(255,255,255,0)"}, {"offset": 0.7111, "color": "rgba(255,255,255,0)"}, {"offset": 0.7111, "color": "#ffffff"},
            {"offset": 0.7372, "color": "#ffffff"}, {"offset": 0.7372, "color": "rgba(255,255,255,0)"}, {"offset": 0.7456, "color": "rgba(255,255,255,0)"}, {"offset": 0.7456, "color": "#ffffff"},
            {"offset": 0.7717, "color": "#ffffff"}, {"offset": 0.7717, "color": "rgba(255,255,255,0)"}, {"offset": 0.7801, "color": "rgba(255,255,255,0)"}, {"offset": 0.7801, "color": "#ffffff"},
            {"offset": 0.8061, "color": "#ffffff"}, {"offset": 0.8061, "color": "rgba(255,255,255,0)"}, {"offset": 0.8145, "color": "rgba(255,255,255,0)"}, {"offset": 0.8145, "color": "#ffffff"},
            {"offset": 0.8406, "color": "#ffffff"}, {"offset": 0.8406, "color": "rgba(255,255,255,0)"}, {"offset": 0.849, "color": "rgba(255,255,255,0)"}, {"offset": 0.849, "color": "#ffffff"},
            {"offset": 0.8751, "color": "#ffffff"}, {"offset": 0.8751, "color": "rgba(255,255,255,0)"}, {"offset": 0.8835, "color": "rgba(255,255,255,0)"}, {"offset": 0.8835, "color": "#ffffff"},
            {"offset": 0.9096, "color": "#ffffff"}, {"offset": 0.9096, "color": "rgba(255,255,255,0)"}, {"offset": 0.918, "color": "rgba(255,255,255,0)"}, {"offset": 0.918, "color": "#ffffff"},
            {"offset": 0.9441, "color": "#ffffff"}, {"offset": 0.9441, "color": "rgba(255,255,255,0)"}, {"offset": 0.9525, "color": "rgba(255,255,255,0)"}, {"offset": 0.9525, "color": "#ffffff"},
            {"offset": 0.9786, "color": "#ffffff"}, {"offset": 0.9786, "color": "rgba(255,255,255,0)"}, {"offset": 0.987, "color": "rgba(255,255,255,0)"}, {"offset": 0.987, "color": "#ffffff"}
          ]}},
          "encoding": {
            "x": {"field": "t", "type": "nominal", "scale": {"type": "band", "domain": ["Vehicle plus vehicle", "Vehicle plus 2 mg/kg LPS", "IND plus vehicle", "IND plus 2 mg/kg LPS"], "paddingInner": 0, "paddingOuter": 0.661, "align": 0.569}, "axis": null},
            "y": {"field": "mean", "type": "quantitative"}
          }
        },
        {
          "mark": {"type": "rule", "color": "#231f20", "strokeWidth": 2.2},
          "encoding": {
            "x": {"field": "t", "type": "nominal", "scale": {"type": "band", "domain": ["Vehicle plus vehicle", "Vehicle plus 2 mg/kg LPS", "IND plus vehicle", "IND plus 2 mg/kg LPS"], "paddingInner": 0, "paddingOuter": 0.661, "align": 0.569}, "axis": null},
            "y": {"field": "mean", "type": "quantitative"},
            "y2": {"field": "upper"}
          }
        },
        {
          "mark": {"type": "text", "fontSize": 19, "baseline": "alphabetic", "dy": -12.5, "color": "#231f20"},
          "encoding": {
            "x": {"field": "t", "type": "nominal", "scale": {"type": "band", "domain": ["Vehicle plus vehicle", "Vehicle plus 2 mg/kg LPS", "IND plus vehicle", "IND plus 2 mg/kg LPS"], "paddingInner": 0, "paddingOuter": 0.661, "align": 0.569}, "axis": {"orient": "top", "domain": false, "labels": false, "ticks": false, "title": "Crop-emptying", "titleFontSize": 21, "titlePadding": -5.5, "titleBaseline": "alphabetic", "titleX": 133.5}},
            "y": {"field": "upper", "type": "quantitative"},
            "text": {"field": "sig"}
          }
        }
      ]
    }
  ],
  "config": {
    "font": "Liberation Sans",
    "view": {"stroke": null},
    "axis": {"domainColor": "#231f20", "domainWidth": 2.5, "tickColor": "#231f20", "tickWidth": 2.5, "tickSize": 6, "labelFontSize": 20, "labelColor": "#231f20", "labelPadding": 11, "titleColor": "#231f20", "titleFontWeight": "normal", "grid": false}
  }
}
